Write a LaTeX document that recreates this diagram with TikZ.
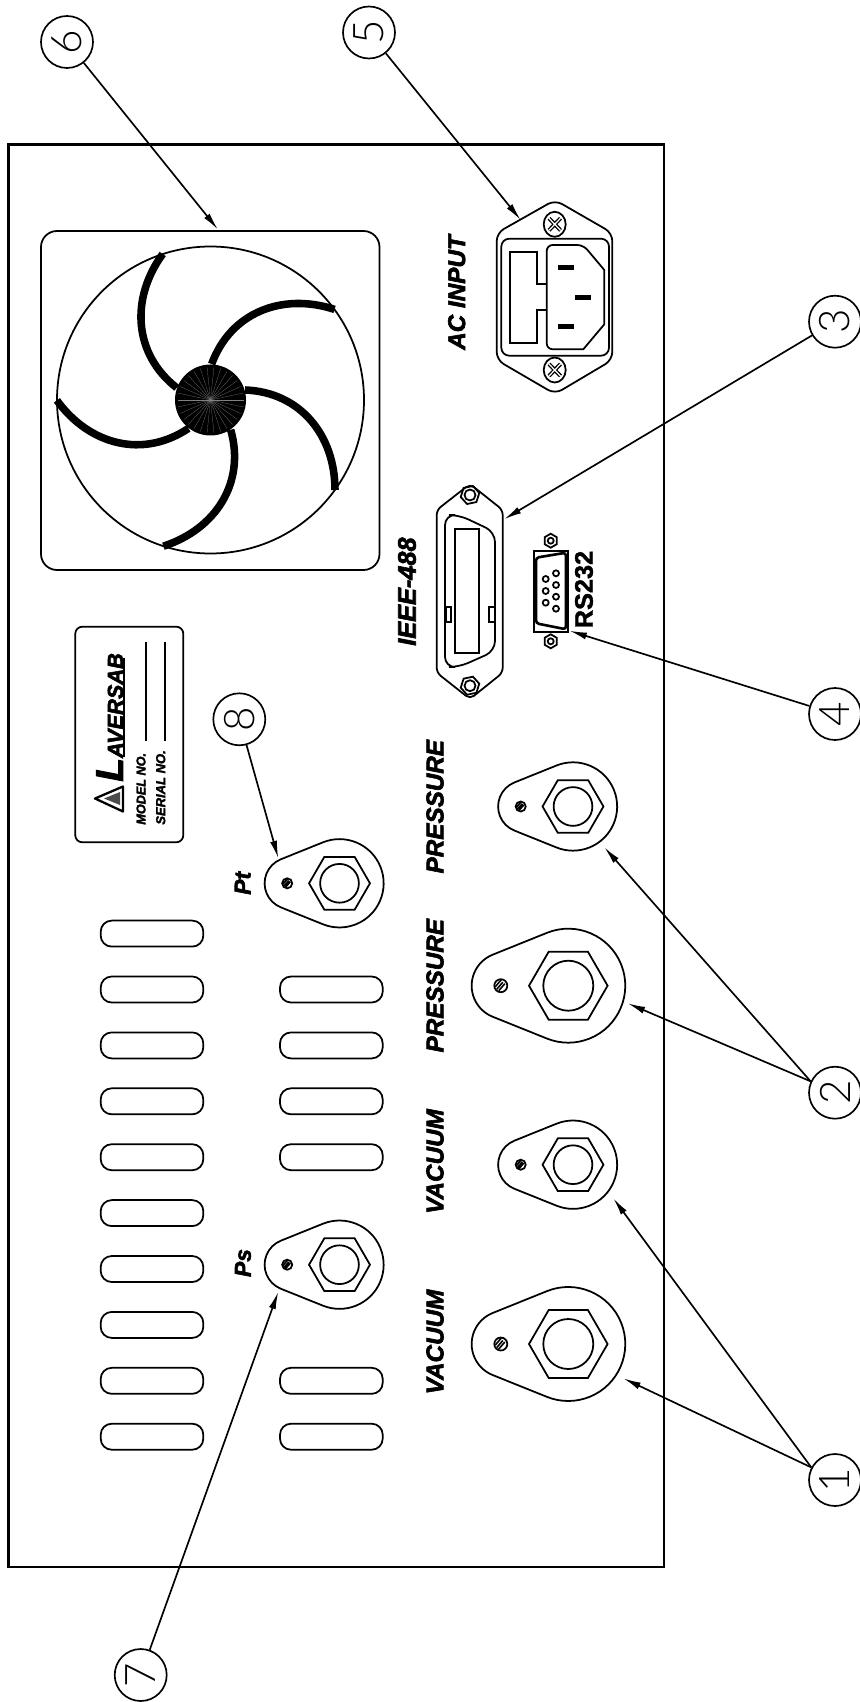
\documentclass[tikz,border=0pt]{standalone}
\usepackage{fontspec}
\setmainfont{Liberation Sans}[BoldItalicFeatures={FakeBold=2.5},BoldFeatures={FakeBold=1.5}]
\newfontfamily\numfont[UprightFont=* Light]{Lato}
\usetikzlibrary{arrows.meta,calc}
\tikzset{
	panel/.style={line width=1.25pt},
	part/.style={line width=1pt},
	lead/.style={line width=0.95pt,-{Latex[length=10pt,width=4pt]}},
	callout/.style={circle,draw,line width=0.95pt,minimum size=1.04cm,inner sep=0pt,font=\numfont\fontsize{24}{24}\selectfont},
	tag/.style={rotate=90,inner sep=0pt,font=\bfseries\itshape\fontsize{13.8}{14}\selectfont},
	pics/hexnut/.style={code={
		\draw[part] (#1,0)--(#1/2,#1*0.866)--(-#1/2,#1*0.866)--(-#1,0)--(-#1/2,-#1*0.866)--(#1/2,-#1*0.866)--cycle;
	}},
	pics/fitting/.style={code={
		\draw[part] (-21.3,-52.9) arc[start angle=-111.9,end angle=111.9,radius=57]
			-- (-75.7,31) arc[start angle=111.9,end angle=248.1,radius=33.4] -- cycle;
		\draw[part] (39.3,0)--(19.6,34)--(-19.6,34)--(-39.3,0)--(-19.6,-34)--(19.6,-34)--cycle;
		\draw[part] (0,0) circle (25);
		\draw[part] (-67.5,0) circle (6.5);
		\draw[line width=0.9pt] (-71.5,3.5)--(-65.5,-3.5) (-69.5,5)--(-63.5,-2) (-73,1)--(-67,-6);
	}},
}
\begin{document}
\begin{tikzpicture}[x=0.02cm,y=-0.02cm]
	\useasboundingbox (0,0) rectangle (859,1702);
	\draw[panel] (8.5,144.5) rectangle (664,1567);

	% fan
	\draw[part,rounded corners=0.32cm] (41,231) rectangle (379.5,570);
	\draw[part] (210.5,400) circle (153.5);
	\foreach \a in {0,72,...,288}
		\draw[line width=4.3pt,rotate around={\a:(210.5,400)}] (245,390) .. controls (300,392) and (335,435) .. (335,490);
	\fill (210.5,400) circle (35.5);
	\foreach \a in {0,12,...,348}
		\draw[gray,line width=0.12pt] (210.5,400) -- ++(\a:33);

	% vent slots
	\foreach \k in {0,...,9}
		\draw[part,rounded corners=0.22cm] (100.7,1423.7-55.9*\k) rectangle (203.3,1449.7-55.9*\k);
	\foreach \k in {0,1,5,6,7,8}
		\draw[part,rounded corners=0.22cm] (280,1423.7-55.9*\k) rectangle (382.7,1449.7-55.9*\k);

	% name plate
	\draw[part,rounded corners=0.14cm] (75.3,626.7) rectangle (183.3,842.3);
	\draw[part] (145.7,642) -- (145.7,740.7) (165.3,642) -- (165.3,740.7);
	\draw[line width=1.3pt,line join=round] (95,798.5) -- (123,786.5) -- (123,811.5) -- cycle;
	\fill[gray!60!black] (104,798.5) -- (120,792) -- (120,805) -- cycle;
	\node[tag,anchor=south west] (maker) at (123.5,782) {\fontsize{22}{22}\selectfont L\fontsize{12.4}{14}\selectfont AVERSAB};
	\draw[line width=1.1pt] (124,657.5) -- (124,757);
	\node[tag,anchor=west,font=\bfseries\itshape\fontsize{7.2}{8}\selectfont] (modelno) at (141,825) {MODEL NO.};
	\node[tag,anchor=west,font=\bfseries\itshape\fontsize{7.4}{8}\selectfont] (serialno) at (160.7,825) {SERIAL NO.};

	% fittings
	\pic at (568.3,985.7) {fitting};
	\pic at (568.3,1344) {fitting};
	\pic[scale=0.775] at (573,806.5) {fitting};
	\pic[scale=0.775] at (573,1164.7) {fitting};
	\pic[scale=0.775] at (339.5,883.3) {fitting};
	\pic[scale=0.775] at (339.5,1264.7) {fitting};
	\node[tag] (vac1) at (435,1342) {VACUUM};
	\node[tag] (vac2) at (435,1161.5) {VACUUM};
	\node[tag] (press1) at (435,985.7) {PRESSURE};
	\node[tag] (press2) at (435,806.7) {PRESSURE};
	\node[tag,font=\bfseries\itshape\fontsize{13}{14}\selectfont] (pt) at (242.7,883.3) {Pt};
	\node[tag,font=\bfseries\itshape\fontsize{13}{14}\selectfont] (ps) at (243,1263) {Ps};

	% AC inlet
	\draw[part,rounded corners=0.16cm] (496.7,233) -- (555,200) -- (612.3,233) -- (612.3,360) -- (555,394) -- (496.7,360) -- cycle;
	\draw[part,rounded corners=0.16cm] (501.3,238.7) rectangle (609,355.7);
	\foreach \y in {224.3,370} {
		\draw[part] (554.7,\y) ellipse (11 and 12.5);
		\draw[line width=2.2pt] (549,\y-6) -- (560.5,\y+6) (549,\y+6) -- (560.5,\y-6);
		\draw[white,line width=0.7pt] (549,\y-6) -- (560.5,\y+6) (549,\y+6) -- (560.5,\y-6);
	}
	\draw[part] (546.7,284.3) -- (536.7,284.3) -- (536.7,251.7) -- (510,251.7) -- (510,343) -- (536.7,343) -- (536.7,310) -- (546.7,310);
	\draw[part,rounded corners=0.12cm] (546.7,245) -- (583.3,245) [sharp corners] -- (604.3,270) -- (604.3,324.3) -- (583.3,349.3) [rounded corners=0.12cm] -- (546.7,349.3) -- cycle;
	\fill (558.3,265.2) rectangle (574,270.2);
	\fill (575,294.8) rectangle (591,299.8);
	\fill (558.3,324.2) rectangle (574,329.2);
	\node[tag] (acinput) at (456.7,292.5) {AC INPUT};

	% IEEE connector
	\draw[part,rounded corners=0.1cm] (436.7,510) -- (470,484) -- (502.7,510) -- (502.7,672.7) -- (470,699) -- (436.7,672.7) -- cycle;
	\foreach \y in {495,685.7} {
		\pic[rotate=12] at (470,\y) {hexnut=9.5};
		\draw[part] (470,\y) circle (5.5);
	}
	\draw[part,rounded corners=0.2cm] (445,515) -- (459,515) -- (495,532) -- (495,651) -- (459,667) -- (445,667) -- cycle;
	\draw[part] (455.3,529.3) rectangle (479,653.3);
	\draw[part] (445.7,606.7) rectangle (450.7,621.7);
	\draw[part] (489,606.7) rectangle (495,621.7);
	\node[tag,font=\bfseries\itshape\fontsize{14.4}{15}\selectfont] (ieee) at (407,591.6) {IEEE-488};

	% RS232 connector
	\draw[part] (534,550.7) rectangle (568,631.7);
	\draw[line width=1.5pt,rounded corners=0.06cm] (536,557.7) -- (566,552.7) -- (566,629.3) -- (536,623.3) -- cycle;
	\foreach \y in {579,591,602.7}
		\draw[part] (545.7,\y) circle (3);
	\foreach \y in {573.3,585,596.7,608.7}
		\draw[part] (556,\y) circle (3);
	\foreach \y in {540.7,641.3} {
		\pic[rotate=90] at (550.7,\y) {hexnut=7};
		\draw[part] (550.7,\y) circle (3);
	}
	\node[tag,font=\bfseries\fontsize{14.4}{15}\selectfont] (rs) at (584,589.5) {RS232};

	% callouts
	\node[callout] (c1) at (835,1480) {\rotatebox{90}{1}};
	\node[callout] (c2) at (835,1092.7) {\rotatebox{90}{2}};
	\node[callout] (c3) at (835,321.7) {\rotatebox{90}{3}};
	\node[callout] (c4) at (835,714) {\rotatebox{90}{4}};
	\node[callout] (c5) at (369,32.5) {\rotatebox{90}{5}};
	\node[callout] (c6) at (67,42) {\rotatebox{90}{6}};
	\node[callout] (c7) at (140.7,1675) {\rotatebox{90}{7}};
	\node[callout] (c8) at (239.3,719.3) {\rotatebox{90}{8}};
	\coordinate (vacA) at (623.3,1378.3);
	\coordinate (vacB) at (613.3,1198.3);
	\coordinate (pressA) at (627.7,1003.3);
	\coordinate (pressB) at (604.3,847.3);
	\coordinate (gpib) at (504,519.3);
	\coordinate (serial) at (569.3,630.7);
	\coordinate (inlet) at (520.7,220);
	\coordinate (fan) at (218,229.6);
	\coordinate (portS) at (278.3,1291.7);
	\coordinate (portT) at (278.3,858.3);
	\draw[lead] (c1.152) -- (vacA);
	\draw[lead] (c1.152) -- (vacB);
	\draw[lead] (c2.155) -- (pressA);
	\draw[lead] (c2.155) -- (pressB);
	\draw[lead] (c3) -- (gpib);
	\draw[lead] (c4) -- (serial);
	\draw[lead] (c5) -- (inlet);
	\draw[lead] (c6) -- (fan);
	\draw[lead] (c7) -- (portS);
	\draw[lead] (c8) -- (portT);
\end{tikzpicture}
\end{document}
